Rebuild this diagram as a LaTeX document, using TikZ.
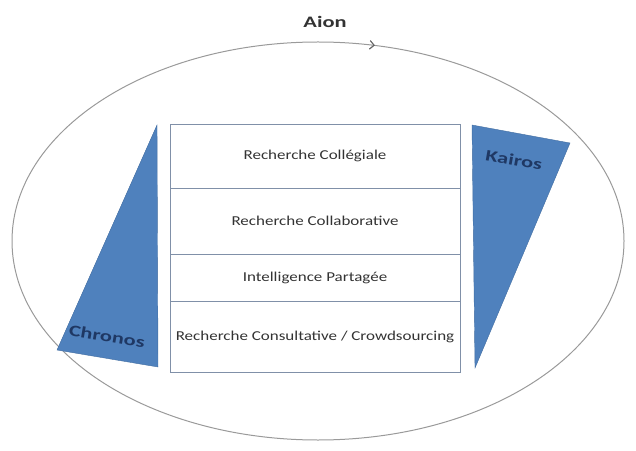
\documentclass[tikz,border=0pt]{standalone}
\usepackage{fontspec}
\newfontfamily\rowfont[FakeStretch=1.25]{Carlito}
\newfontfamily\tagfont[FakeStretch=1.4]{Carlito}
\usetikzlibrary{arrows.meta, positioning, decorations.markings}
\definecolor{triblue}{HTML}{4F81BD}
\definecolor{tagnavy}{HTML}{1F3864}
\definecolor{rowline}{HTML}{8090A8}
\definecolor{aionline}{HTML}{9A9A9A}

\begin{document}
\begin{tikzpicture}[
    x=1pt, y=1pt, >=Straight Barb,
    row/.style={draw=rowline, line width=0.9pt, minimum width=290pt,
                inner sep=0pt, outer sep=0pt, text centered,
                text=black!80, font=\rowfont\fontsize{13.6}{15}\selectfont},
    tag/.style={font=\tagfont\bfseries\fontsize{16}{18}\selectfont,
                text=tagnavy, inner sep=0pt},
    tri/.style={fill=triblue, draw=triblue!85!black, line width=0.4pt}
  ]
  \useasboundingbox (0,0) rectangle (636,450);

  % outer cycle
  \draw[aionline, line width=1pt, postaction={decorate},
        decoration={markings,
          mark=at position 0.218 with {\arrow[black!60, line width=0.9pt, scale=1.3]{<}}}]
    (318,209) ellipse [x radius=306, y radius=199];
  \node[tag, text=black!80] (aion) at (325,428) {Aion};

  % stack of research modes
  \node[row, minimum height=64pt] (coll) at (315,294) {Recherche Collégiale};
  \node[row, minimum height=66pt, below=0pt of coll] (collab)
    {Recherche Collaborative};
  \node[row, minimum height=47pt, below=0pt of collab] (intel)
    {Intelligence Partagée};
  \node[row, minimum height=71pt, below=0pt of intel] (consult)
    {Recherche Consultative / Crowdsourcing};

  % side wedges
  \draw[tri] (157,325) -- (57,100) -- (158,83) -- cycle;
  \node[tag, rotate=-9.6] (chronos) at (107,114) {Chronos};
  \draw[tri] (472,325) -- (570,307) -- (475,82) -- cycle;
  \node[tag, rotate=-10] (kairos) at (514,290) {Kairos};
\end{tikzpicture}
\end{document}
